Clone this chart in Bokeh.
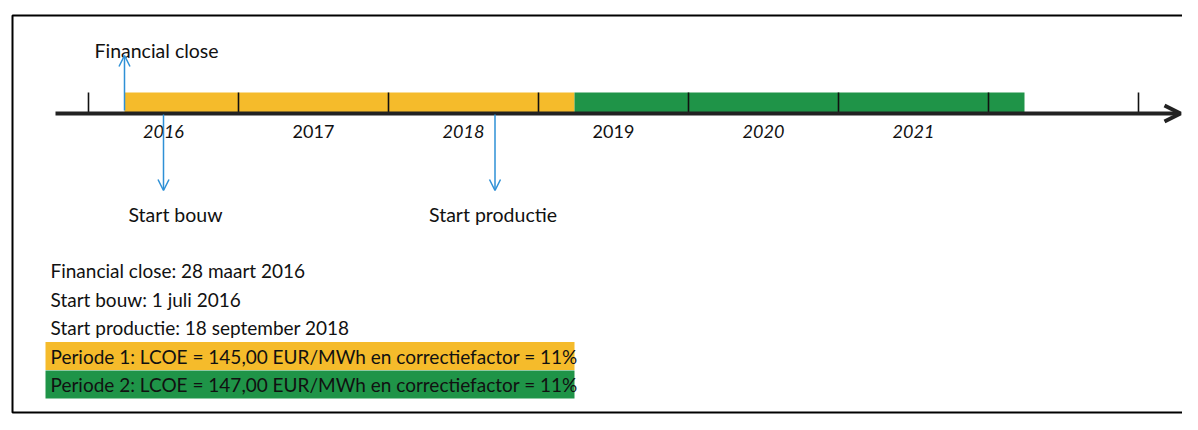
from bokeh.plotting import figure
from bokeh.models import Range1d, Arrow, OpenHead, BoxAnnotation, ColumnDataSource
from bokeh.core.properties import value
from bokeh.embed import file_html
from bokeh.resources import INLINE

# ---------------- data ----------------
period_names = ["Periode 1", "Periode 2"]
period_start = [2016.24, 2019.24]
period_end = [2019.24, 2022.24]
period_colors = ["#F5BB2B", "#1F9448"]

tick_years = [2016, 2017, 2018, 2019, 2020, 2021, 2022, 2023]
year_labels = ["2016", "2017", "2018", "2019", "2020", "2021"]
year_label_pos = [2016.5, 2017.5, 2018.5, 2019.5, 2020.5, 2021.5]
year_styles = ["italic", "normal", "italic", "normal", "italic", "italic"]

event_names = ["Financial close", "Start bouw", "Start productie"]
event_dates = [2016.24, 2016.50, 2018.71]
event_dirs = ["up", "down", "down"]

note_lines = [
    "Financial close: 28 maart 2016",
    "Start bouw: 1 juli 2016",
    "Start productie: 18 september 2018",
    "Periode 1: LCOE = 145,00 EUR/MWh en correctiefactor = 11%",
    "Periode 2: LCOE = 147,00 EUR/MWh en correctiefactor = 11%",
]
note_band_index = [None, None, None, 0, 1]  # which period colour highlights a line

# ---------------- layout / style ----------------
W, H = 1182, 414
PX_PER_YEAR = 150.0
X0 = 2016 - 88 / PX_PER_YEAR
FONT = "Lato"
AXIS_Y = 113
BAR_H = 20
AXIS_START = X0 + 55 / PX_PER_YEAR
AXIS_END = X0 + (W - 2) / PX_PER_YEAR
EVENT_COLOR = "#2E90D6"
TEXT = "#111111"

p = figure(width=W, height=H, output_backend="svg", toolbar_location=None,
           x_range=Range1d(X0, X0 + W / PX_PER_YEAR), y_range=Range1d(H, 0),
           x_axis_location=None, y_axis_location=None, min_border=0)
p.outline_line_color = None
p.xgrid.visible = False
p.ygrid.visible = False
p.background_fill_color = "white"
p.border_fill_color = "white"
p.extra_x_ranges = {"px": Range1d(0, W)}

# frame (screen y measured from the bottom)
p.add_layout(BoxAnnotation(left=12, right=W + 40, top=H - 15, bottom=2,
                           left_units="screen", right_units="screen",
                           top_units="screen", bottom_units="screen",
                           fill_alpha=0, line_color="#000000", line_alpha=1.0,
                           line_width=2))

# period bars
p.quad(left=period_start, right=period_end,
       top=[AXIS_Y - BAR_H - 1] * len(period_start),
       bottom=[AXIS_Y - 1] * len(period_start),
       fill_color=period_colors, line_color=None)

# year ticks
p.segment(x0=tick_years, x1=tick_years, y0=[AXIS_Y] * len(tick_years),
          y1=[AXIS_Y - BAR_H - 1] * len(tick_years), line_color="#111111", line_width=1.6)

# axis with arrow
p.add_layout(Arrow(end=OpenHead(size=16, line_width=4, line_color="#222222"),
                   x_start=AXIS_START, y_start=AXIS_Y, x_end=AXIS_END, y_end=AXIS_Y,
                   line_width=4, line_color="#222222"))

# year labels
ysrc = ColumnDataSource(dict(x=year_label_pos, y=[AXIS_Y + 18] * len(year_labels),
                             t=year_labels, s=year_styles))
p.text(x="x", y="y", text="t", text_font_style="s", source=ysrc,
       text_font=value(FONT), text_font_size="18px", text_align="center",
       text_baseline="middle", text_color=TEXT)

# events
label_dy = {"up": -63, "down": 101}
arrow_len = {"up": -58, "down": 77}
label_dx = [-30, 12, -2]
label_align = ["left", "center", "center"]
for name, d, direc, dx, al in zip(event_names, event_dates, event_dirs, label_dx, label_align):
    y0 = AXIS_Y - 3 if direc == "up" else AXIS_Y + 1
    p.add_layout(Arrow(end=OpenHead(size=11, line_width=1.5, line_color=EVENT_COLOR),
                       x_start=d, y_start=y0, x_end=d, y_end=AXIS_Y + arrow_len[direc],
                       line_width=1.5, line_color=EVENT_COLOR))
    p.text(x=[d], y=[AXIS_Y + label_dy[direc]], text=[name], x_offset=dx,
           text_font=value(FONT), text_font_size="19.5px", text_align=al,
           text_baseline="middle", text_color=TEXT)

# notes
NOTE_X = 50
NOTE_Y0 = 270
NOTE_DY = 28.5
for i, (line, band) in enumerate(zip(note_lines, note_band_index)):
    y = NOTE_Y0 + i * NOTE_DY
    if band is not None:
        p.quad(left=[NOTE_X - 5], right=[NOTE_X + 524], top=[y - 14], bottom=[y + 14],
               fill_color=period_colors[band], line_color=None, x_range_name="px")
    p.text(x=[NOTE_X], y=[y], text=[line], x_range_name="px",
           text_font=value(FONT), text_font_size="19px", text_align="left",
           text_baseline="middle", text_color=TEXT)

open("out.html", "w").write(file_html(p, INLINE))
